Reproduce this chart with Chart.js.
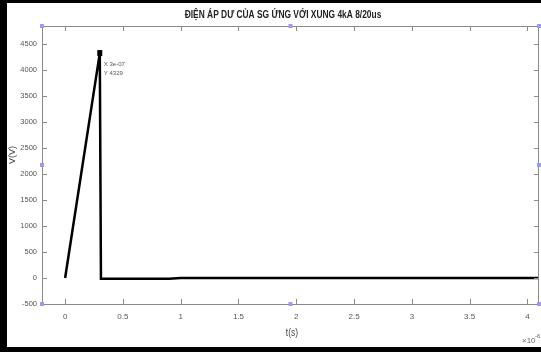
<!DOCTYPE html>
<html>
<head>
<meta charset="utf-8">
<script src="https://cdn.jsdelivr.net/npm/chart.js@4"></script>
<style>
  html, body { margin: 0; padding: 0; background: #fff; }
  #wrap { width: 541px; height: 352px; position: relative; }
</style>
</head>
<body>
<div id="wrap"><canvas id="chart" width="541" height="352"></canvas></div>
<script>
// time in units of 1e-6 s, voltage in V
const tValues = [0, 0.3, 0.3, 0.31, 0.9, 1.0, 4.1];
const vValues = [0, 4329, 4329, -15, -15, 0, 0];
const xTicks = [0, 0.5, 1, 1.5, 2, 2.5, 3, 3.5, 4];
const yTicks = [-500, 0, 500, 1000, 1500, 2000, 2500, 3000, 3500, 4000, 4500];
const peak = { t: 0.3, v: 4329, label: ['X 3e-07', 'Y 4329'] };
const titleText = 'ĐIỆN ÁP DƯ CỦA SG ỨNG VỚI XUNG 4kA 8/20us';

const FONT = '"Liberation Sans Narrow", "Liberation Sans", Arial, sans-serif';

// squeeze text horizontally to mimic the narrow font of the original
function narrowText(c, text, x, y, sx) {
  c.save();
  c.translate(x, y);
  c.scale(sx, 1);
  c.fillText(text, 0, 0);
  c.restore();
}

const frame = {
  id: 'frame',
  beforeDraw(chart) {
    const c = chart.ctx;
    c.save();
    c.fillStyle = '#000';
    c.fillRect(0, 0, 541, 352);
    c.fillStyle = '#fff';
    c.fillRect(7, 3, 534, 344);
    c.restore();
  },
  afterDraw(chart) {
    const c = chart.ctx;
    const a = chart.chartArea;
    const xs = chart.scales.x, ys = chart.scales.y;
    c.save();
    // box
    c.strokeStyle = '#8a8a8a';
    c.lineWidth = 1;
    c.strokeRect(a.left + 0.5, a.top + 0.5, a.right - a.left - 1, a.bottom - a.top);
    // inside ticks
    c.beginPath();
    xTicks.forEach(v => {
      const x = Math.round(xs.getPixelForValue(v)) + 0.5;
      c.moveTo(x, a.bottom); c.lineTo(x, a.bottom - 5);
      c.moveTo(x, a.top); c.lineTo(x, a.top + 5);
    });
    yTicks.forEach(v => {
      const y = Math.round(ys.getPixelForValue(v)) + 0.5;
      c.moveTo(a.left, y); c.lineTo(a.left + 5, y);
      c.moveTo(a.right, y); c.lineTo(a.right - 5, y);
    });
    c.stroke();
    // title
    c.fillStyle = '#222';
    c.font = 'bold 10px ' + FONT;
    c.textAlign = 'center';
    c.textBaseline = 'middle';
    narrowText(c, titleText, 283, 15, 0.84);
    // peak marker + datatip
    const px = xs.getPixelForValue(peak.t), py = ys.getPixelForValue(peak.v);
    c.fillStyle = '#000';
    c.fillRect(px - 2.5, py - 3, 5, 6);
    c.fillStyle = '#555';
    c.font = '6px ' + FONT;
    c.textAlign = 'left';
    c.textBaseline = 'top';
    c.fillText(peak.label[0], px + 4, py + 8);
    c.fillText(peak.label[1], px + 4, py + 17);
    // axis titles
    c.fillStyle = '#444';
    c.font = '10px ' + FONT;
    c.textAlign = 'center';
    c.textBaseline = 'middle';
    narrowText(c, 't(s)', 292, 333, 0.85);
    c.save();
    c.translate(13, 155);
    c.rotate(-Math.PI / 2);
    c.font = '9px ' + FONT;
    narrowText(c, 'V(V)', 0, 0, 1);
    c.restore();
    // selection handles
    const mx = (a.left + a.right) / 2, my = (a.top + a.bottom) / 2;
    const pts = [[a.left, a.top], [mx, a.top], [a.right, a.top], [a.left, my],
                 [a.right, my], [a.left, a.bottom], [mx, a.bottom], [a.right, a.bottom]];
    c.fillStyle = '#9a9af0';
    pts.forEach(p => { c.fillRect(p[0] - 2, p[1] - 2, 4, 4); });
    // exponent label
    c.fillStyle = '#666';
    c.font = '8px ' + FONT;
    c.textAlign = 'left';
    c.textBaseline = 'alphabetic';
    c.fillText('\u00d710', 522, 343);
    c.font = '6px ' + FONT;
    c.fillText('-6', 535, 338);
    c.restore();
  }
};

new Chart(document.getElementById('chart'), {
  type: 'line',
  data: {
    datasets: [{
      data: tValues.map((t, i) => ({ x: t, y: vValues[i] })),
      borderColor: '#000',
      borderWidth: 2.5,
      pointRadius: 0,
      tension: 0,
      fill: false
    }]
  },
  options: {
    responsive: false,
    animation: false,
    devicePixelRatio: 1,
    layout: { padding: { left: 0, right: 2, top: 26, bottom: 0 } },
    plugins: {
      legend: { display: false },
      tooltip: { enabled: false },
      title: { display: false }
    },
    scales: {
      x: {
        type: 'linear',
        min: -0.2,
        max: 4.1,
        afterBuildTicks: s => { s.ticks = xTicks.map(v => ({ value: v })); },
        ticks: { color: '#555', font: { family: FONT, size: 8 }, padding: 8, maxRotation: 0, callback: v => String(v) },
        grid: { display: false, drawTicks: false },
        border: { display: false },
        afterFit: s => { s.height = 48; }
      },
      y: {
        min: -500,
        max: 4850,
        afterBuildTicks: s => { s.ticks = yTicks.map(v => ({ value: v })); },
        ticks: { color: '#555', font: { family: FONT, size: 7.5 }, padding: 5, callback: v => String(v) },
        grid: { display: false, drawTicks: false },
        border: { display: false },
        afterFit: s => { s.width = 42; }
      }
    }
  },
  plugins: [frame]
});
</script>
</body>
</html>
